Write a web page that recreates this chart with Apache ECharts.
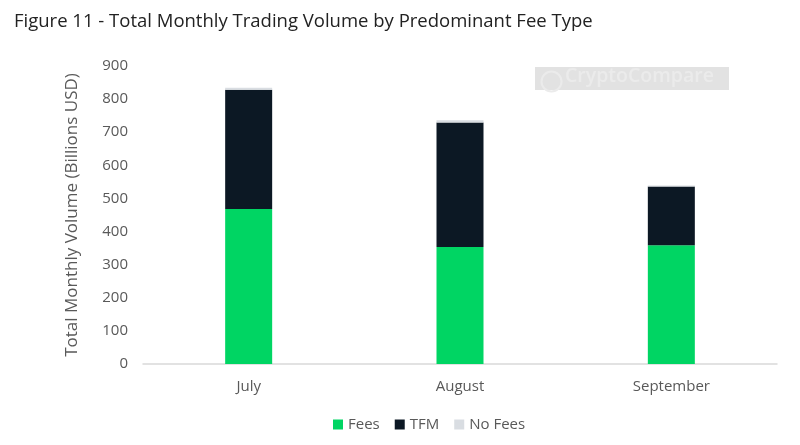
<!DOCTYPE html>
<html>
<head>
<meta charset="utf-8">
<script src="https://cdn.jsdelivr.net/npm/echarts@6/dist/echarts.min.js"></script>
<style>html,body{margin:0;padding:0;background:#fff}#c{width:800px;height:445px}</style>
</head>
<body>
<div id="c"></div>
<script>
const categories = ['July', 'August', 'September'];
const feesValues = [468, 353, 359];
const tfmValues = [360, 376, 177];
const noFeesValues = [6, 7, 3];
const yTicks = [0, 100, 200, 300, 400, 500, 600, 700, 800, 900];

const chart = echarts.init(document.getElementById('c'), null, {renderer: 'canvas'});
const font = '"Open Sans", "Noto Sans", sans-serif';
chart.setOption({
  animation: false,
  backgroundColor: '#fff',
  title: {
    text: 'Figure 11 - Total Monthly Trading Volume by Predominant Fee Type',
    left: 9, top: 7,
    textStyle: {fontFamily: font, fontSize: 18.5, fontWeight: 'normal', color: '#222'}
  },
  graphic: [
    {type: 'rect', left: 535, top: 67, shape: {width: 194, height: 23}, style: {fill: '#e2e2e2'}, z: 0},
    {type: 'circle', left: 539, top: 69, shape: {r: 10}, style: {fill: 'none', stroke: '#ebebeb', lineWidth: 2}, z: 1},
    {type: 'text', left: 565, top: 66, style: {text: 'CryptoCompare', fill: '#ebebeb', font: '600 19.5px ' + font}, z: 1}
  ],
  legend: {
    bottom: 8, left: 328,
    itemWidth: 10, itemHeight: 10, itemGap: 15,
    icon: 'rect',
    textStyle: {fontFamily: font, fontSize: 15, color: '#595959'},
    data: ['Fees', 'TFM', 'No Fees']
  },
  grid: {left: 143, right: 23, top: 66, bottom: 81},
  xAxis: {
    type: 'category', data: categories,
    axisLine: {lineStyle: {color: '#d9d9d9', width: 1.5}},
    axisTick: {show: false},
    axisLabel: {fontFamily: font, fontSize: 15, color: '#595959', margin: 15}
  },
  yAxis: {
    type: 'value', min: yTicks[0], max: yTicks[yTicks.length - 1], interval: 100,
    name: 'Total Monthly Volume (Billions USD)',
    nameLocation: 'middle', nameGap: 62,
    nameTextStyle: {fontFamily: font, fontSize: 17, color: '#595959'},
    axisLine: {show: false}, axisTick: {show: false},
    splitLine: {show: false},
    axisLabel: {fontFamily: font, fontSize: 15, color: '#595959', margin: 15}
  },
  series: [
    {name: 'Fees', type: 'bar', stack: 'v', data: feesValues, barWidth: 47, itemStyle: {color: '#00D563'}},
    {name: 'TFM', type: 'bar', stack: 'v', data: tfmValues, barWidth: 47, itemStyle: {color: '#0C1824'}},
    {name: 'No Fees', type: 'bar', stack: 'v', data: noFeesValues, barWidth: 47, itemStyle: {color: '#D9DDE2'}}
  ]
});
</script>
</body>
</html>
